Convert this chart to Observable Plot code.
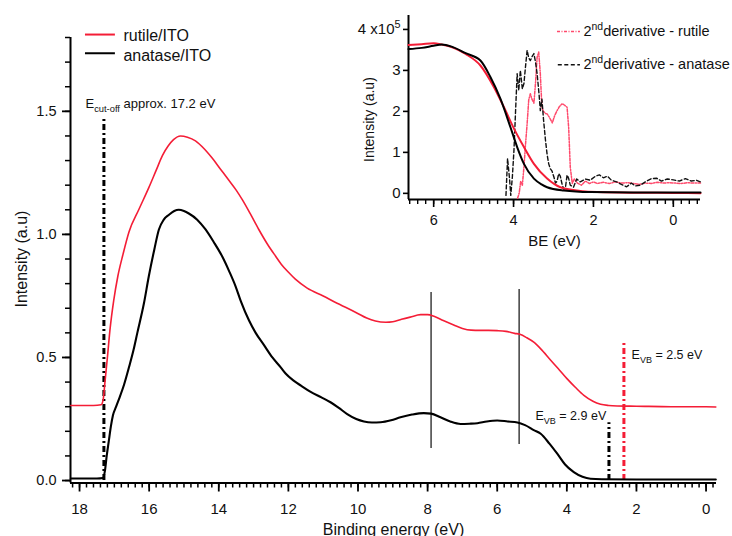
<!DOCTYPE html>
<html>
<head>
<meta charset="utf-8">
<script src="https://cdn.jsdelivr.net/npm/d3@7"></script>
<script src="https://cdn.jsdelivr.net/npm/@observablehq/plot@0.6"></script>
<style>
  body { margin: 0; background: #fff; }
  #wrap { position: relative; width: 732px; height: 536px; overflow: hidden; }
  #wrap svg { position: absolute; }
</style>
</head>
<body>
<div id="wrap"></div>
<script>
// ---------- main spectra (binding energy eV, intensity a.u.) ----------
const rutileE = [18.25,17.6,17.38,17.32,17.27,17.2,17.12,17.02,16.9,16.75,16.58,16.3,16.01,15.8,15.62,15.45,15.3,15.1,14.9,14.67,14.4,14.19,13.95,13.71,13.5,13.32,13.1,12.85,12.6,12.37,12.2,11.99,11.8,11.46,11.0,10.6,10.3,10.02,9.75,9.5,9.2,9.0,8.75,8.5,8.2,8.0,7.8,7.55,7.25,7.0,6.75,6.5,6.25,6.0,5.75,5.5,5.35,5.15,4.95,4.75,4.47,4.25,3.99,3.75,3.51,3.25,3.03,2.8,2.55,2.0,1.0,0.0,-0.28];
const rutileI = [0.305,0.305,0.308,0.33,0.40,0.50,0.62,0.73,0.83,0.92,1.01,1.10,1.19,1.26,1.32,1.36,1.385,1.40,1.395,1.38,1.345,1.31,1.265,1.22,1.18,1.14,1.085,1.02,0.96,0.912,0.878,0.845,0.818,0.782,0.75,0.72,0.70,0.68,0.66,0.648,0.643,0.645,0.655,0.664,0.674,0.674,0.666,0.65,0.632,0.618,0.611,0.61,0.61,0.609,0.606,0.598,0.594,0.58,0.562,0.535,0.49,0.455,0.413,0.378,0.346,0.322,0.31,0.305,0.303,0.302,0.30,0.30,0.299];

const anataseE = [18.25,17.5,17.33,17.27,17.22,17.16,17.1,17.04,16.95,16.87,16.72,16.58,16.45,16.34,16.15,16.01,15.85,15.72,15.58,15.43,15.28,15.15,15.0,14.86,14.62,14.38,14.15,13.9,13.7,13.52,13.37,13.13,12.94,12.7,12.46,12.22,12.08,11.84,11.6,11.36,11.05,10.79,10.55,10.31,10.05,9.83,9.6,9.35,9.05,8.78,8.45,8.11,7.9,7.63,7.35,7.05,6.8,6.57,6.3,6.0,5.7,5.42,5.2,4.95,4.75,4.5,4.27,4.05,3.8,3.55,3.32,3.0,2.0,1.0,-0.28];
const anataseI = [0.008,0.008,0.01,0.04,0.10,0.16,0.22,0.265,0.30,0.33,0.39,0.46,0.53,0.60,0.72,0.83,0.94,1.02,1.06,1.08,1.095,1.10,1.095,1.085,1.06,1.02,0.97,0.91,0.85,0.79,0.73,0.65,0.60,0.55,0.50,0.46,0.435,0.405,0.382,0.36,0.338,0.318,0.295,0.27,0.25,0.24,0.236,0.237,0.245,0.257,0.268,0.274,0.272,0.257,0.24,0.23,0.231,0.233,0.24,0.244,0.24,0.236,0.225,0.205,0.19,0.15,0.108,0.065,0.034,0.015,0.007,0.005,0.004,0.004,0.004];

// marker lines in the main chart
const peakLineE = [7.9, 5.37];
const peakLineLow = [0.13, 0.146];
const peakLineHigh = [0.764, 0.776];
const cutoffE = 17.3, cutoffTop = 1.471;
const vbRutileE = 2.36, vbRutileTop = 0.557;
const vbAnataseE = 2.79, vbAnataseTop = 0.235;

const mainLegend = ["rutile/ITO", "anatase/ITO"];
const mainYTicks = [0, 0.5, 1.0, 1.5];
const mainXTicks = [0, 2, 4, 6, 8, 10, 12, 14, 16, 18];

// ---------- inset (BE eV, intensity ×1e5) ----------
const insRutE = [6.63,6.3,6.0,5.8,5.5,5.2,4.83,4.49,4.24,3.99,3.74,3.49,3.16,2.83,2.33,1.91,1.0,0.0,-0.68];
const insRutI = [3.62,3.64,3.66,3.63,3.55,3.40,3.12,2.59,2.10,1.58,1.13,0.72,0.36,0.15,0.06,0.03,0.015,0.01,0.005];
const insAnaE = [6.63,6.3,6.0,5.8,5.55,5.2,4.83,4.58,4.33,4.08,3.91,3.74,3.49,3.3,3.16,2.74,2.08,1.0,0.0,-0.68];
const insAnaI = [3.52,3.55,3.60,3.63,3.58,3.42,3.24,2.84,2.31,1.62,1.13,0.72,0.36,0.22,0.15,0.07,0.03,0.02,0.02,0.02];

const d2AnaE = [4.19,4.15,4.10,4.07,4.03,3.99,3.95,3.91,3.87,3.83,3.78,3.74,3.70,3.66,3.62,3.58,3.53,3.49,3.45,3.41,3.36,3.33,3.29,3.25,3.20,3.16,3.12,3.08,3.04,2.99,2.95,2.91,2.87,2.83,2.78,2.74,2.70,2.66,2.62,2.58,2.50,2.42,2.33,2.20,2.08,1.95,1.85,1.75,1.65,1.55,1.42,1.30,1.17,1.05,0.95,0.83,0.70,0.55,0.42,0.30,0.15,0.0,-0.15,-0.30,-0.45,-0.58,-0.68];
const d2AnaI = [-0.05,0.85,0.35,-0.05,0.4,1.05,2.0,2.92,2.51,3.0,2.55,2.68,3.1,3.49,3.3,3.24,3.35,3.41,3.2,2.92,2.4,2.02,2.3,1.8,1.29,0.95,0.72,0.6,0.55,0.40,0.25,0.3,0.48,0.42,0.2,0.1,0.15,0.45,0.36,0.2,0.15,0.35,0.28,0.35,0.32,0.42,0.45,0.38,0.42,0.32,0.28,0.22,0.16,0.25,0.18,0.2,0.28,0.36,0.37,0.3,0.35,0.33,0.3,0.36,0.3,0.32,0.28];

const d2RutE = [3.90,3.86,3.82,3.78,3.74,3.70,3.66,3.62,3.58,3.54,3.49,3.45,3.41,3.37,3.33,3.29,3.25,3.20,3.16,3.10,3.03,2.97,2.91,2.85,2.78,2.72,2.66,2.62,2.58,2.53,2.48,2.40,2.30,2.20,2.10,2.00,1.90,1.75,1.60,1.45,1.30,1.15,1.00,0.85,0.70,0.55,0.40,0.25,0.10,-0.05,-0.20,-0.35,-0.50,-0.68];
const d2RutI = [-0.12,0.0,0.3,0.2,0.64,1.2,1.7,2.28,2.43,2.3,2.2,2.7,3.32,3.45,2.92,2.1,2.0,1.95,1.94,1.85,1.72,1.9,2.02,2.12,2.19,2.15,2.1,1.6,0.64,0.24,0.35,0.25,0.2,0.3,0.24,0.28,0.24,0.27,0.24,0.28,0.25,0.26,0.24,0.22,0.25,0.24,0.27,0.25,0.26,0.25,0.24,0.26,0.25,0.25];

const insetLegend = ["2^{nd}derivative - rutile", "2^{nd}derivative - anatase"];
const insetYTicks = [0, 1, 2, 3, 4];
const insetXTicks = [0, 2, 4, 6];

// ---------- styles ----------
const RED = "#f41d36";
const PINK = "#ff4a6c";
const FONT = "'Liberation Sans', Arial, Helvetica, sans-serif";
const DASHDOT = "6,3,2,3";

const series = (X) => ({length: X.length});

// ---------- main chart ----------
const xDom = [18.26, -0.30];
const yDom = [-0.01, 1.8];

const main = Plot.plot({
  width: 732, height: 536,
  marginLeft: 70, marginRight: 16, marginTop: 37, marginBottom: 53.5,
  style: {fontFamily: FONT, background: "transparent", overflow: "visible"},
  x: {domain: xDom},
  y: {domain: yDom},
  marks: [
    Plot.axisX({ticks: d3.range(-1, 92).map(i => i / 5), tickSize: 5, strokeWidth: 1.5, tickFormat: () => "", label: null}),
    Plot.axisX({ticks: mainXTicks, tickSize: 9, tickPadding: 11, strokeWidth: 1.8, fontSize: 15, fill: "#111", label: null}),
    Plot.axisY({ticks: d3.range(0, 19).map(i => i / 10), tickSize: 5, strokeWidth: 1.5, tickFormat: () => "", label: null}),
    Plot.axisY({ticks: mainYTicks, tickSize: 8, tickPadding: 6, strokeWidth: 1.8, tickFormat: d3.format(".1f"), fontSize: 14.5, fill: "#111", label: null}),
    Plot.ruleX([xDom[0]], {strokeWidth: 2}),
    Plot.ruleY([yDom[0]], {strokeWidth: 2}),
    Plot.text(["Binding energy (eV)"], {frameAnchor: "bottom", dy: 51.5, lineAnchor: "bottom", text: d => d, fontSize: 16, fill: "#111"}),
    Plot.text(["Intensity (a.u)"], {x: 19.67, y: 0.9, rotate: -90, text: d => d, fontSize: 16, fill: "#111"}),
    Plot.ruleX(peakLineE, {x: peakLineE, y1: peakLineLow, y2: peakLineHigh, stroke: "#4a4a4a", strokeWidth: 1.6}),
    Plot.ruleX([cutoffE], {y1: 0, y2: cutoffTop, stroke: "#000", strokeWidth: 3, strokeDasharray: DASHDOT}),
    Plot.ruleX([vbRutileE], {y1: 0, y2: vbRutileTop, stroke: RED, strokeWidth: 3, strokeDasharray: DASHDOT}),
    Plot.ruleX([vbAnataseE], {y1: 0, y2: vbAnataseTop, stroke: "#000", strokeWidth: 3, strokeDasharray: DASHDOT}),
    Plot.line(series(rutileE), {x: rutileE, y: rutileI, stroke: RED, strokeWidth: 1.6, curve: "monotone-x"}),
    Plot.line(series(anataseE), {x: anataseE, y: anataseI, stroke: "#000", strokeWidth: 2.1, curve: "monotone-x"}),
    Plot.text(["E_{cut-off} approx. 17.2 eV"], {x: 17.83, y: 1.512, text: d => d, textAnchor: "start", lineAnchor: "bottom", fontSize: 13, fill: "#111"}),
    Plot.text(["E_{VB} = 2.5 eV"], {x: 2.14, y: 0.492, text: d => d, textAnchor: "start", lineAnchor: "bottom", fontSize: 12.5, fill: "#111"}),
    Plot.text(["E_{VB} = 2.9 eV"], {x: 4.90, y: 0.244, text: d => d, textAnchor: "start", lineAnchor: "bottom", fontSize: 12.5, fill: "#111"}),
    Plot.ruleY([1.812], {x1: 17.83, x2: 16.97, stroke: RED, strokeWidth: 2}),
    Plot.ruleY([1.736], {x1: 17.83, x2: 16.97, stroke: "#000", strokeWidth: 2}),
    Plot.text(mainLegend, {x: 16.74, y: [1.806, 1.727], text: d => d, textAnchor: "start", fontSize: 16, fill: "#111"})
  ]
});
main.style.left = "0px"; main.style.top = "0px";

// ---------- inset ----------
const ixDom = [6.63, -0.68];
const iyDom = [-0.15, 4.34];
const inset = Plot.plot({
  width: 392, height: 260,
  marginLeft: 68, marginRight: 32, marginTop: 15, marginBottom: 61,
  style: {fontFamily: FONT, background: "transparent", overflow: "visible"},
  x: {domain: ixDom},
  y: {domain: iyDom},
  marks: [
    Plot.axisX({ticks: d3.range(-3, 34).map(i => i / 5), tickSize: 5, strokeWidth: 1.4, tickFormat: () => "", label: null}),
    Plot.axisX({ticks: insetXTicks, tickSize: 8, tickPadding: 7, strokeWidth: 1.6, fontSize: 14.5, fill: "#111", label: null}),
    Plot.axisY({ticks: insetYTicks, tickSize: 5, tickPadding: 3, strokeWidth: 1.6, fontSize: 15, fill: "#111",
      tickFormat: d => d === 4 ? "4 x10^{5}" : String(d), label: null}),
    Plot.ruleX([ixDom[0]], {strokeWidth: 2}),
    Plot.ruleY([iyDom[0]], {strokeWidth: 2}),
    Plot.text(["BE (eV)"], {frameAnchor: "bottom", dy: 46, lineAnchor: "bottom", text: d => d, fontSize: 15, fill: "#111"}),
    Plot.text(["Intensity (a.u)"], {x: 7.61, y: 1.8, rotate: -90, text: d => d, fontSize: 14, fill: "#111"}),
    Plot.line(series(d2RutE), {x: d2RutE, y: d2RutI, stroke: PINK, strokeWidth: 1.5, strokeDasharray: "3,1.5,1,1.5"}),
    Plot.line(series(d2AnaE), {x: d2AnaE, y: d2AnaI, stroke: "#111", strokeWidth: 1.4, strokeDasharray: "4,2.5"}),
    Plot.line(series(insRutE), {x: insRutE, y: insRutI, stroke: RED, strokeWidth: 2, curve: "monotone-x"}),
    Plot.line(series(insAnaE), {x: insAnaE, y: insAnaI, stroke: "#000", strokeWidth: 2, curve: "monotone-x"}),
    Plot.ruleY([3.95], {x1: 2.90, x2: 2.325, stroke: PINK, strokeWidth: 1.5, strokeDasharray: "3,1.5,1,1.5"}),
    Plot.ruleY([3.14], {x1: 2.88, x2: 2.325, stroke: "#111", strokeWidth: 1.4, strokeDasharray: "4,2.5"}),
    Plot.text(insetLegend, {x: 2.25, y: [3.83, 3.03], text: d => d, textAnchor: "start", lineAnchor: "bottom", fontSize: 14.5, fill: "#111"})
  ]
});
inset.style.left = "340px"; inset.style.top = "0px";

const wrap = document.getElementById("wrap");
wrap.appendChild(main);
wrap.appendChild(inset);

// sub/superscripts written as _{..} and ^{..}
function richify(svg) {
  d3.select(svg).selectAll("text").each(function () {
    const el = this;
    const s = el.textContent;
    if (!/[_^]\{/.test(s)) return;
    const fs = parseFloat(getComputedStyle(el).fontSize) || 12;
    while (el.firstChild) el.removeChild(el.firstChild);
    const parts = s.split(/([_^]\{[^}]*\})/).filter(p => p);
    let shift = 0;
    for (const p of parts) {
      const m = p.match(/^([_^])\{([^}]*)\}$/);
      const t = document.createElementNS("http://www.w3.org/2000/svg", "tspan");
      let target = 0;
      if (m) {
        target = m[1] === "_" ? 0.28 * fs : -0.42 * fs;
        t.setAttribute("font-size", 0.72 * fs);
        t.textContent = m[2];
      } else {
        t.textContent = p;
      }
      t.setAttribute("dy", target - shift);
      shift = target;
      el.appendChild(t);
    }
  });
}
richify(main);
richify(inset);
</script>
</body>
</html>
